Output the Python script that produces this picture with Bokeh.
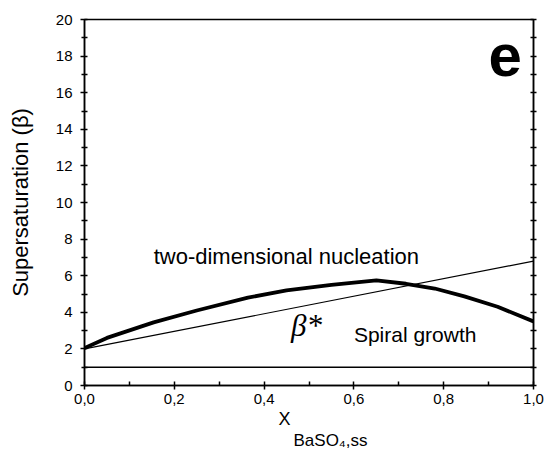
from bokeh.plotting import figure
from bokeh.models import LinearAxis, Range1d, Label, FixedTicker, Title
from bokeh.embed import file_html
from bokeh.resources import INLINE

# data
curve_x = [0.0, 0.05, 0.154, 0.25, 0.364, 0.45, 0.55, 0.65, 0.716, 0.78, 0.846, 0.92, 1.0]
curve_y = [2.05, 2.6, 3.45, 4.1, 4.8, 5.2, 5.5, 5.74, 5.56, 5.3, 4.87, 4.3, 3.5]
line_x = [0.0, 1.0]
line_y = [2.0, 6.8]
base_x = [0.0, 1.0]
base_y = [1.0, 1.0]
x_ticks = [0.0, 0.2, 0.4, 0.6, 0.8, 1.0]
x_tick_labels = ["0,0", "0,2", "0,4", "0,6", "0,8", "1,0"]
y_ticks = [0, 2, 4, 6, 8, 10, 12, 14, 16, 18, 20]

FONT = "Liberation Sans"

p = figure(width=544, height=449, output_backend="svg", toolbar_location=None,
           x_range=Range1d(0, 1), y_range=Range1d(0, 20),
           min_border_left=84, min_border_right=11, min_border_top=19, min_border_bottom=63,
           x_axis_location="below", y_axis_location="left")
p.outline_line_color = "black"
p.outline_line_width = 1.5
p.xgrid.visible = False
p.ygrid.visible = False
p.background_fill_color = "white"
p.border_fill_color = "white"

xa = p.xaxis[0]
xa.ticker = FixedTicker(ticks=x_ticks, minor_ticks=[0.1, 0.3, 0.5, 0.7, 0.9])
xa.major_label_overrides = {t: l for t, l in zip(x_ticks, x_tick_labels)}
xa.major_tick_in = 4
xa.major_tick_out = 4
xa.minor_tick_in = 4
xa.minor_tick_out = 0
xa.axis_line_width = 1.5
xa.major_tick_line_width = 1.5
xa.minor_tick_line_width = 1.5
xa.major_label_text_font = FONT
xa.major_label_text_font_size = "15px"
xa.major_label_text_color = "black"
xa.major_label_standoff = 4

ya = p.yaxis[0]
ya.ticker = FixedTicker(ticks=y_ticks, minor_ticks=list(range(1, 20, 2)))
ya.major_tick_in = 3
ya.major_tick_out = 4
ya.minor_tick_in = 3
ya.minor_tick_out = 3
ya.axis_line_width = 1.5
ya.major_tick_line_width = 1.5
ya.minor_tick_line_width = 1.5
ya.major_label_text_font = FONT
ya.major_label_text_font_size = "15px"
ya.major_label_text_color = "black"
ya.major_label_standoff = 8
ya.axis_label = "Supersaturation (β)"
ya.axis_label_text_font = FONT
ya.axis_label_text_font_style = "normal"
ya.axis_label_text_font_size = "22px"
ya.axis_label_text_color = "black"
ya.axis_label_standoff = 20

ra = LinearAxis(ticker=FixedTicker(ticks=y_ticks, minor_ticks=list(range(1, 20, 2))))
ra.major_tick_in = 3
ra.major_tick_out = 3
ra.minor_tick_in = 3
ra.minor_tick_out = 3
ra.axis_line_width = 1.5
ra.major_tick_line_width = 1.5
ra.minor_tick_line_width = 1.5
ra.major_label_text_font_size = "0px"
ra.major_label_standoff = 0
p.add_layout(ra, "right")

p.line(base_x, base_y, line_color="black", line_width=1.5)
p.line(line_x, line_y, line_color="black", line_width=1.2)
p.line(curve_x, curve_y, line_color="black", line_width=3.8)

p.add_layout(Label(x=0.154, y=7.03, text="two-dimensional nucleation", text_font=FONT,
                   text_font_size="22px", text_color="black", text_baseline="alphabetic"))
p.add_layout(Label(x=0.46, y=3.3, text="β*", text_font="Liberation Serif", text_font_style="italic",
                   text_font_size="31px", text_color="black", text_baseline="alphabetic"))
p.add_layout(Label(x=0.60, y=2.78, text="Spiral growth", text_font=FONT,
                   text_font_size="21px", text_color="black", text_baseline="alphabetic"))
p.add_layout(Label(x=0.90, y=18.04, text="e", text_font=FONT, text_font_style="bold",
                   text_font_size="60px", text_color="black", text_baseline="alphabetic"))

# x-axis title: X with subscript, as two titles below the axis
t1 = Title(text="X", align="left", offset=194, text_font=FONT, text_font_size="18px",
           text_font_style="normal", text_color="black", standoff=0, text_line_height=0.9)
t2 = Title(text="BaSO₄,ss", align="left", offset=209, text_font=FONT, text_font_size="17px",
           text_font_style="normal", text_color="black", standoff=0, text_line_height=0.9)
p.add_layout(t1, "below")
p.add_layout(t2, "below")

open("out.html", "w").write(file_html(p, INLINE))
